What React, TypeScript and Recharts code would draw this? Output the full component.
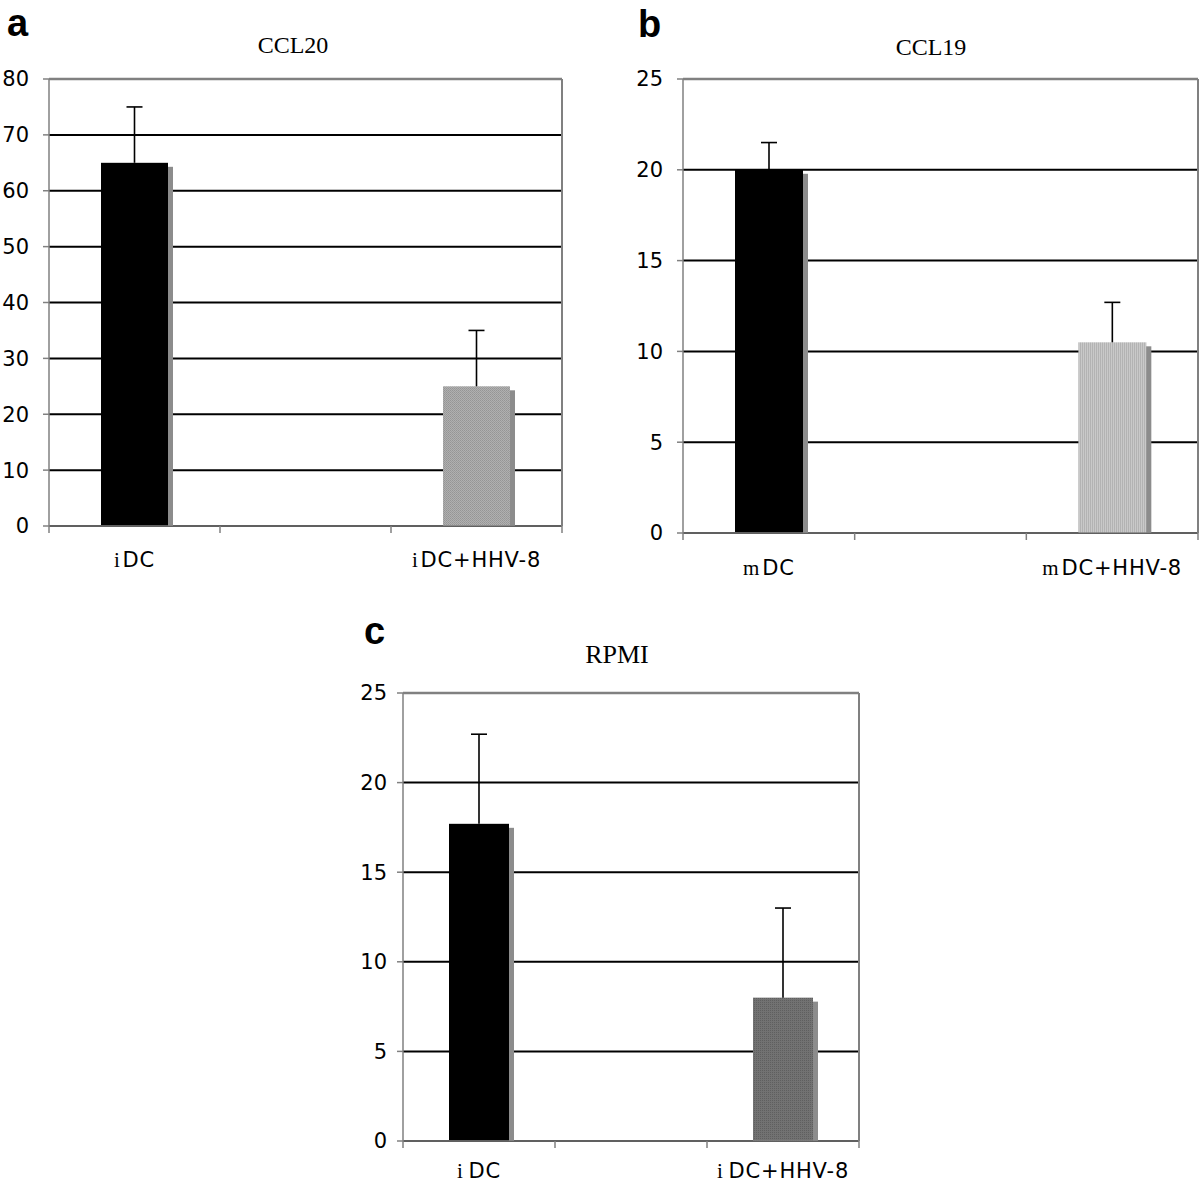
import React from 'react';
import { BarChart, Bar, XAxis, YAxis, CartesianGrid, ReferenceLine } from 'recharts';

// panel a – CCL20
const ccl20Categories = ['iDC', '', 'iDC+HHV-8'];
const ccl20Values = [65, null, 25];
const ccl20Errors = [10, null, 10];
const ccl20Ticks = [0, 10, 20, 30, 40, 50, 60, 70, 80];

// panel b – CCL19
const ccl19Categories = ['mDC', '', 'mDC+HHV-8'];
const ccl19Values = [20, null, 10.5];
const ccl19Errors = [1.5, null, 2.2];
const ccl19Ticks = [0, 5, 10, 15, 20, 25];

// panel c – RPMI
const rpmiCategories = ['iDC', '', 'iDC+HHV-8'];
const rpmiValues = [17.7, null, 8];
const rpmiErrors = [5, null, 5];
const rpmiTicks = [0, 5, 10, 15, 20, 25];

const BORDER = '#808080';
const SHADOW = '#8c8c8c';
const SANS = '"DejaVu Sans", Verdana, sans-serif';
const SERIF = '"Liberation Serif", "Times New Roman", serif';

const makeShape = (fills: string[]) => (props: any) => {
  const { x, y, width, height, index, payload } = props;
  if (payload.value == null || !height) return <g />;
  const errTop = y - (height * payload.err) / payload.value;
  const cx = x + width / 2;
  return (
    <g>
      <rect x={x + 5} y={y + 4} width={width} height={height - 4} fill={SHADOW} />
      <rect x={x} y={y} width={width} height={height} fill={fills[index]} />
      <line x1={cx} y1={y} x2={cx} y2={errTop} stroke="#000" strokeWidth={1.6} />
      <line x1={cx - 8} y1={errTop} x2={cx + 8} y2={errTop} stroke="#000" strokeWidth={1.6} />
    </g>
  );
};

const makeTick = (bandWidth: number, count: number, labelDy: number, gap: number) => (props: any) => {
  const { x, y, payload, index } = props;
  const label: string = payload.value ?? '';
  const left = x - bandWidth / 2;
  return (
    <g>
      <line x1={left} y1={y} x2={left} y2={y + 7} stroke={BORDER} strokeWidth={1.5} />
      {index === count - 1 && (
        <line x1={left + bandWidth} y1={y} x2={left + bandWidth} y2={y + 7} stroke={BORDER} strokeWidth={1.5} />
      )}
      {label && (
        <text x={x} y={y + labelDy} textAnchor="middle" fill="#000" fontSize={21} fontFamily={SANS} letterSpacing={0.8}>
          <tspan fontFamily={SERIF}>{label[0]}</tspan>
          <tspan dx={gap}>{label.slice(1)}</tspan>
        </text>
      )}
    </g>
  );
};

type PanelProps = {
  left: number;
  top: number;
  width: number;
  height: number;
  margin: { top: number; right: number; bottom: number; left: number };
  yWidth: number;
  plotWidth: number;
  categories: string[];
  values: (number | null)[];
  errors: (number | null)[];
  ticks: number[];
  fills: string[];
  barSize: number;
  tickMargin: number;
  labelDy: number;
  labelGap: number;
};

const Panel = (p: PanelProps) => {
  const data = p.categories.map((name, i) => ({ name, value: p.values[i], err: p.errors[i] }));
  const max = p.ticks[p.ticks.length - 1];
  const axisStyle = { stroke: BORDER, strokeWidth: 1.5 };
  return (
    <div style={{ position: 'absolute', left: p.left, top: p.top }}>
      <BarChart width={p.width} height={p.height} data={data} margin={p.margin} barSize={p.barSize}>
        <CartesianGrid vertical={false} stroke="#000" strokeWidth={2} />
        <XAxis
          dataKey="name"
          height={40}
          interval={0}
          tickSize={0}
          tickMargin={0}
          tickLine={false}
          axisLine={axisStyle}
          tick={makeTick(p.plotWidth / p.categories.length, p.categories.length, p.labelDy, p.labelGap)}
        />
        <YAxis
          domain={[0, max]}
          ticks={p.ticks}
          width={p.yWidth}
          interval={0}
          tickSize={6}
          tickMargin={p.tickMargin}
          tickLine={axisStyle}
          axisLine={axisStyle}
          tick={{ fill: '#000', fontSize: 21, fontFamily: SANS }}
        />
        <ReferenceLine y={max} stroke={BORDER} strokeWidth={2.5} />
        <ReferenceLine x={p.categories[p.categories.length - 1]} position="end" stroke={BORDER} strokeWidth={2} />
        <Bar dataKey="value" isAnimationActive={false} shape={makeShape(p.fills)} />
      </BarChart>
    </div>
  );
};

const App = () => {
  return (
    <div style={{ position: 'absolute', left: 0, top: 0, width: 1200, height: 1190, background: '#fff' }}>
      <Panel
        left={0}
        top={0}
        width={600}
        height={600}
        margin={{ top: 79, right: 38, bottom: 34, left: 0 }}
        yWidth={49}
        plotWidth={513}
        categories={ccl20Categories}
        values={ccl20Values}
        errors={ccl20Errors}
        ticks={ccl20Ticks}
        fills={['#000', 'url(#dotsA)', '#000']}
        barSize={67}
        tickMargin={14}
        labelDy={41}
        labelGap={2}
      />
      <Panel
        left={600}
        top={0}
        width={600}
        height={600}
        margin={{ top: 79, right: 2, bottom: 27, left: 0 }}
        yWidth={83}
        plotWidth={515}
        categories={ccl19Categories}
        values={ccl19Values}
        errors={ccl19Errors}
        ticks={ccl19Ticks}
        fills={['#000', 'url(#stripesB)', '#000']}
        barSize={68}
        tickMargin={14}
        labelDy={42}
        labelGap={2}
      />
      <Panel
        left={330}
        top={600}
        width={600}
        height={590}
        margin={{ top: 93, right: 71, bottom: 9, left: 0 }}
        yWidth={73}
        plotWidth={456}
        categories={rpmiCategories}
        values={rpmiValues}
        errors={rpmiErrors}
        ticks={rpmiTicks}
        fills={['#000', 'url(#dotsC)', '#000']}
        barSize={60}
        tickMargin={10}
        labelDy={37}
        labelGap={5}
      />
      <svg width={1200} height={1190} style={{ position: 'absolute', left: 0, top: 0, pointerEvents: 'none' }}>
        <defs>
          <pattern id="dotsA" width={2} height={2} patternUnits="userSpaceOnUse">
            <rect width={2} height={2} fill="#b0b0b0" />
            <rect width={1} height={1} fill="#959595" />
            <rect x={1} y={1} width={1} height={1} fill="#9c9c9c" />
          </pattern>
          <pattern id="stripesB" width={2} height={2} patternUnits="userSpaceOnUse">
            <rect width={2} height={2} fill="#c9c9c9" />
            <rect width={1} height={2} fill="#b3b3b3" />
          </pattern>
          <pattern id="dotsC" width={2} height={2} patternUnits="userSpaceOnUse">
            <rect width={2} height={2} fill="#727272" />
            <rect width={1} height={1} fill="#5f5f5f" />
          </pattern>
        </defs>
        <g fontFamily='"Liberation Sans", Arial, sans-serif' fontWeight="bold" fontSize={38} fill="#000">
          <text x={7} y={36}>a</text>
          <text x={638} y={37}>b</text>
          <text x={364} y={644}>c</text>
        </g>
        <g fontFamily={SERIF} fill="#000" textAnchor="middle">
          <text x={293} y={53} fontSize={24}>CCL20</text>
          <text x={931} y={55} fontSize={24}>CCL19</text>
          <text x={617} y={663} fontSize={26}>RPMI</text>
        </g>
      </svg>
    </div>
  );
};

export default App;
